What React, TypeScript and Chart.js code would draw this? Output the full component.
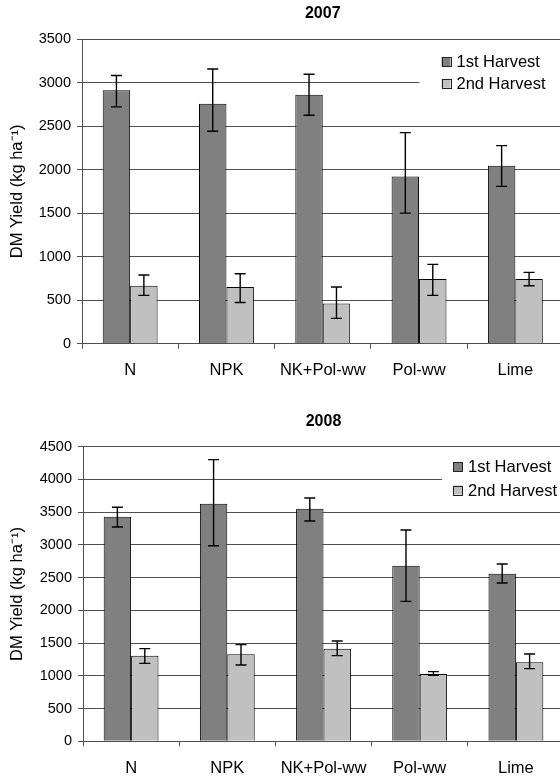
import React, { useEffect, useRef } from 'react';
import { Chart, registerables } from 'chart.js';

Chart.register(...registerables);

// ---------- data ----------
const CATEGORIES = ['N', 'NPK', 'NK+Pol-ww', 'Pol-ww', 'Lime'];
const SERIES_NAMES = ['1st Harvest', '2nd Harvest'];
const Y_TITLE = 'DM Yield (kg ha\u207B\u00B9)';

const TITLE_2007 = '2007';
const Y_MAX_2007 = 3500;
const H1_2007 = [2910, 2755, 2860, 1920, 2045];
const H1_2007_ERR_UP = [170, 400, 235, 505, 230];
const H1_2007_ERR_DOWN = [190, 315, 235, 420, 238];
const H2_2007 = [665, 650, 463, 743, 743];
const H2_2007_ERR_UP = [124, 154, 188, 168, 76];
const H2_2007_ERR_DOWN = [110, 176, 172, 188, 77];

const TITLE_2008 = '2008';
const Y_MAX_2008 = 4500;
const H1_2008 = [3431, 3630, 3553, 2683, 2561];
const H1_2008_ERR_UP = [143, 672, 163, 544, 147];
const H1_2008_ERR_DOWN = [158, 642, 188, 545, 143];
const H2_2008 = [1308, 1329, 1415, 1028, 1206];
const H2_2008_ERR_UP = [107, 147, 117, 36, 128];
const H2_2008_ERR_DOWN = [117, 163, 107, 20, 96];

const Y_STEP = 500;

// ---------- style ----------
const FONT = "'Liberation Sans', Arial, Helvetica, sans-serif";
const COLORS = ['#808080', '#c0c0c0'];
const GRID = '#505050';

const errorBarPlugin = {
  id: 'errorBars',
  afterDatasetsDraw(chart: any) {
    const { ctx } = chart;
    const y = chart.scales.y;
    chart.data.datasets.forEach((ds: any, i: number) => {
      const meta = chart.getDatasetMeta(i);
      meta.data.forEach((el: any, j: number) => {
        const v = ds.data[j];
        const hi = y.getPixelForValue(v + ds.errUp[j]);
        const lo = y.getPixelForValue(v - ds.errDown[j]);
        const cap = 5.5;
        ctx.save();
        ctx.strokeStyle = '#000';
        ctx.lineWidth = 1.4;
        ctx.beginPath();
        ctx.moveTo(el.x, hi);
        ctx.lineTo(el.x, lo);
        ctx.moveTo(el.x - cap, hi);
        ctx.lineTo(el.x + cap, hi);
        ctx.moveTo(el.x - cap, lo);
        ctx.lineTo(el.x + cap, lo);
        ctx.stroke();
        ctx.restore();
      });
    });
  },
};

const insideLegendPlugin = {
  id: 'insideLegend',
  afterDraw(chart: any, _args: any, opts: any) {
    const { ctx, chartArea } = chart;
    const boxLeft = chartArea.right - opts.fromRight;
    const boxTop = chartArea.top + opts.boxTop;
    ctx.save();
    ctx.fillStyle = '#ffffff';
    ctx.fillRect(boxLeft, boxTop, chart.width - boxLeft, opts.boxHeight);
    ctx.font = `${opts.fontSize}px ${FONT}`;
    ctx.textBaseline = 'middle';
    ctx.textAlign = 'left';
    chart.data.datasets.forEach((ds: any, i: number) => {
      const cy = chartArea.top + opts.rows[i];
      const sx = boxLeft + opts.squareOffset;
      const s = opts.square;
      ctx.fillStyle = ds.backgroundColor;
      ctx.fillRect(sx, cy - s / 2, s, s);
      ctx.strokeStyle = '#222';
      ctx.lineWidth = 1;
      ctx.strokeRect(Math.round(sx) + 0.5, Math.round(cy - s / 2) + 0.5, s, s);
      ctx.fillStyle = '#000';
      ctx.fillText(ds.label, sx + s + opts.gap, cy + 1);
    });
    ctx.restore();
  },
};

interface PanelProps {
  title: string;
  yMax: number;
  h1: number[];
  h1Up: number[];
  h1Down: number[];
  h2: number[];
  h2Up: number[];
  h2Down: number[];
  height: number;
  chartTop: number;
  chartBottom: number;
  axisLeft: number;
  chartRight: number;
  titleCenter: number;
  legend: any;
}

const CANVAS_W = 568;

function Panel(p: PanelProps) {
  const ref = useRef<HTMLCanvasElement | null>(null);
  useEffect(() => {
    if (!ref.current) return;
    const titleSize = 16;
    const titleLH = titleSize * 1.2;
    const titlePadTop = p.titleCenter - titleLH / 2;
    const titlePadBottom = p.chartTop - titlePadTop - titleLH;
    const chart = new Chart(ref.current, {
      type: 'bar',
      data: {
        labels: CATEGORIES,
        datasets: [
          {
            label: SERIES_NAMES[0],
            data: p.h1,
            errUp: p.h1Up,
            errDown: p.h1Down,
            backgroundColor: COLORS[0],
            borderColor: '#000',
            borderWidth: 1,
          } as any,
          {
            label: SERIES_NAMES[1],
            data: p.h2,
            errUp: p.h2Up,
            errDown: p.h2Down,
            backgroundColor: COLORS[1],
            borderColor: '#000',
            borderWidth: 1,
          } as any,
        ],
      },
      options: {
        responsive: false,
        animation: false,
        devicePixelRatio: 1,
        layout: { padding: { left: 0, right: CANVAS_W - p.chartRight, top: 0, bottom: 0 } },
        datasets: { bar: { barPercentage: 1, categoryPercentage: 0.57 } },
        plugins: {
          legend: { display: false },
          tooltip: { enabled: false },
          title: {
            display: true,
            text: p.title,
            fullSize: false,
            color: '#000',
            font: { family: FONT, size: titleSize, weight: 'bold', lineHeight: 1.2 },
            padding: { top: titlePadTop, bottom: titlePadBottom },
          },
          insideLegend: p.legend,
        } as any,
        scales: {
          x: {
            offset: true,
            grid: {
              display: true,
              offset: true,
              drawOnChartArea: false,
              drawTicks: true,
              tickLength: 5,
              color: GRID,
            },
            border: { display: true, color: GRID, width: 1 },
            ticks: {
              color: '#000',
              font: { family: FONT, size: 16.5 },
              padding: 12,
              maxRotation: 0,
              autoSkip: false,
            },
            afterFit: (s: any) => {
              s.height = p.height - p.chartBottom;
            },
          },
          y: {
            min: 0,
            max: p.yMax,
            ticks: {
              stepSize: Y_STEP,
              color: '#000',
              font: { family: FONT, size: 14.5 },
              padding: 6,
              callback: (v: any) => String(v),
            },
            grid: { color: GRID, lineWidth: 1, drawTicks: true, tickLength: 5 },
            border: { display: true, color: GRID, width: 1 },
            title: {
              display: true,
              text: Y_TITLE,
              color: '#000',
              font: { family: FONT, size: 16.5 },
              padding: { top: 8, bottom: 0 },
            },
            afterFit: (s: any) => {
              s.width = p.axisLeft;
            },
          },
        },
      } as any,
      plugins: [errorBarPlugin, insideLegendPlugin],
    });
    return () => chart.destroy();
  }, []);
  return (
    <canvas
      ref={ref}
      width={CANVAS_W}
      height={p.height}
      style={{ display: 'block', width: CANVAS_W, height: p.height }}
    />
  );
}

export default function App() {
  return (
    <div
      style={{
        position: 'fixed',
        left: 0,
        top: 0,
        width: 560,
        height: 778,
        overflow: 'hidden',
        background: '#fff',
      }}
    >
      <Panel
        title={TITLE_2007}
        yMax={Y_MAX_2007}
        h1={H1_2007}
        h1Up={H1_2007_ERR_UP}
        h1Down={H1_2007_ERR_DOWN}
        h2={H2_2007}
        h2Up={H2_2007_ERR_UP}
        h2Down={H2_2007_ERR_DOWN}
        height={390}
        chartTop={39}
        chartBottom={343.7}
        axisLeft={82}
        chartRight={563.5}
        titleCenter={13.7}
        legend={{
          fromRight: 144,
          boxTop: 9,
          boxHeight: 50,
          squareOffset: 22,
          square: 9,
          gap: 6,
          rows: [22.7, 44.3],
          fontSize: 16.5,
        }}
      />
      <Panel
        title={TITLE_2008}
        yMax={Y_MAX_2008}
        h1={H1_2008}
        h1Up={H1_2008_ERR_UP}
        h1Down={H1_2008_ERR_DOWN}
        h2={H2_2008}
        h2Up={H2_2008_ERR_UP}
        h2Down={H2_2008_ERR_DOWN}
        height={388}
        chartTop={56.7}
        chartBottom={351.3}
        axisLeft={83}
        chartRight={564}
        titleCenter={31.7}
        legend={{
          fromRight: 122,
          boxTop: 7,
          boxHeight: 52,
          squareOffset: 11,
          square: 9,
          gap: 6,
          rows: [20, 43.3],
          fontSize: 16.5,
        }}
      />
    </div>
  );
}
